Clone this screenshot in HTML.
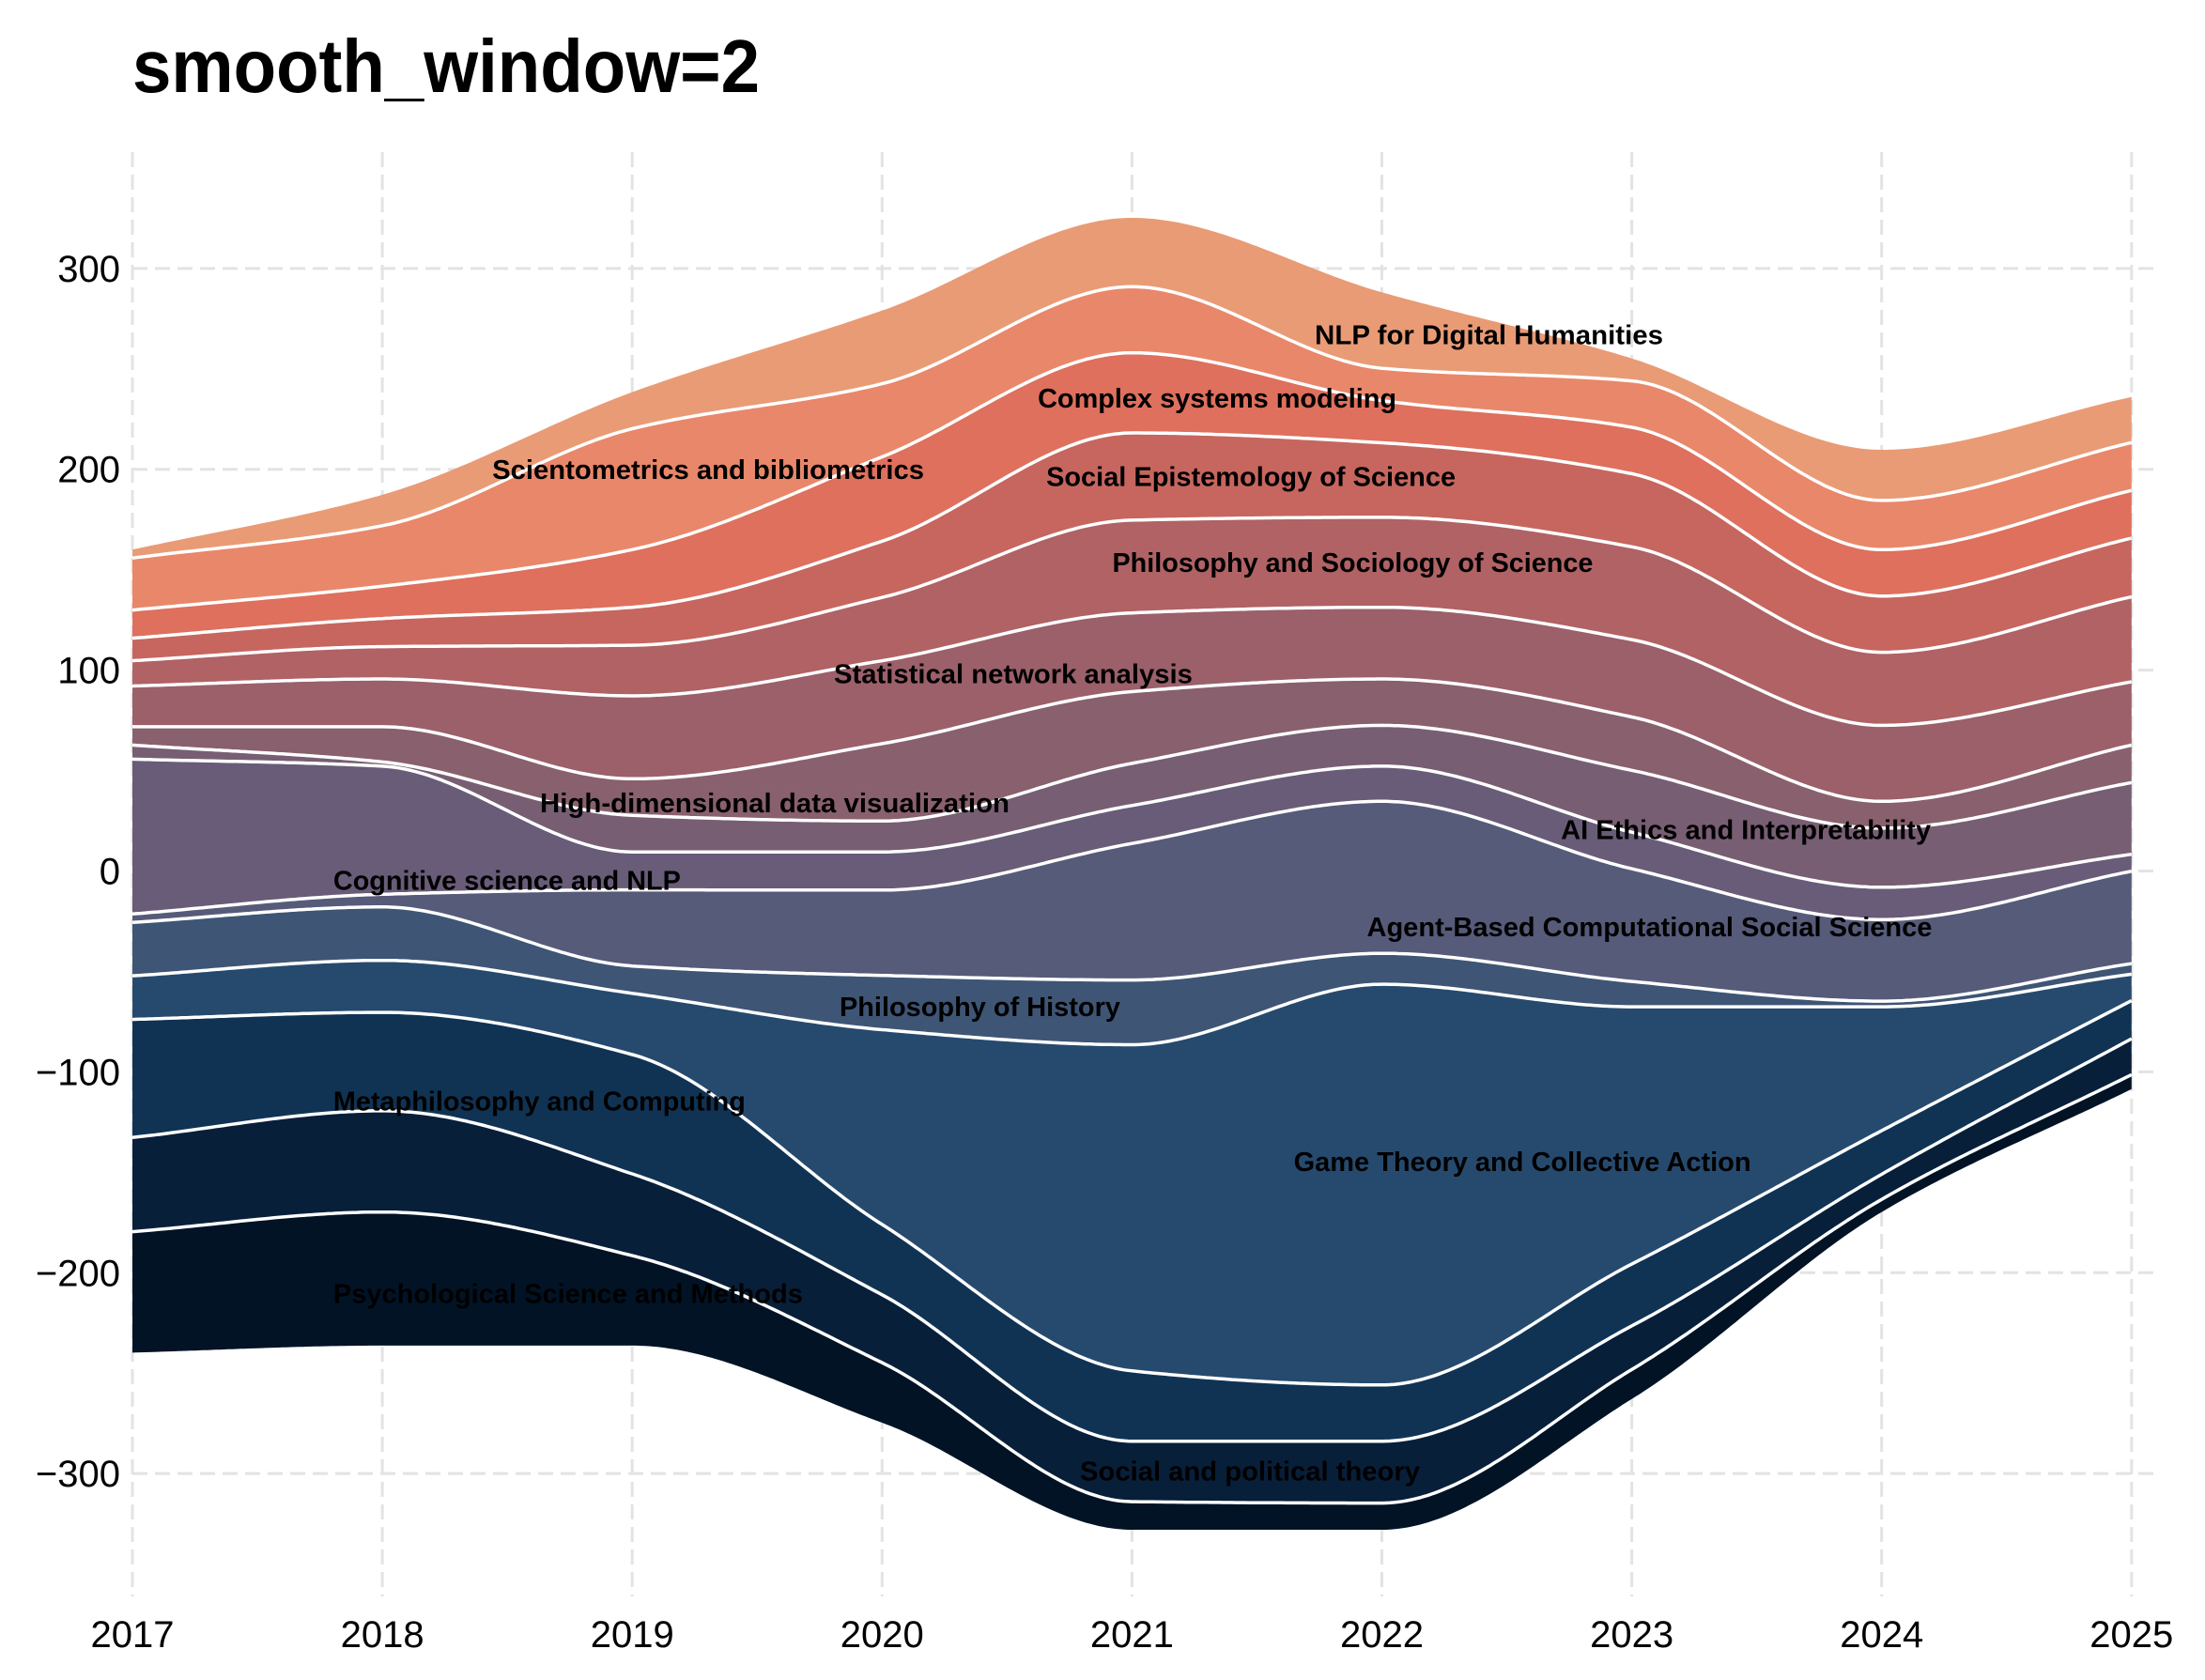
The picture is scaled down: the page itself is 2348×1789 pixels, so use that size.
<!DOCTYPE html>
<html><head><meta charset="utf-8"><style>
html,body{margin:0;padding:0;background:#fff;}
svg{display:block;font-family:"Liberation Sans Narrow","Liberation Sans",sans-serif;}
</style></head><body>
<svg id="chart" width="2348" height="1789" viewBox="0 0 2348 1789">
<text x="141" y="98" font-size="80" font-weight="bold" textLength="668" lengthAdjust="spacingAndGlyphs">smooth_window=2</text>
<g id="grid"></g>
<g id="layers"></g>
<g id="lines"></g>
<g id="labels"></g>
<g id="ticks"></g>
</svg>
<script>
const years = [2017,2018,2019,2020,2021,2022,2023,2024,2025];
const yTicks = [300,200,100,0,-100,-200,-300];
const baseline = [-239.8,-236.3,-236.3,-274.7,-328.0,-328.0,-262.9,-169.8,-108.6];
const psychological = [60.2,66.5,44.8,29.9,14.0,13.3,14.7,6.3,7.2];
const socialPolitical = [46.9,50.4,40.7,33.8,30.1,30.8,21.7,12.5,17.9];
const metaphilosophy = [58.8,49.0,59.4,35.0,35.0,28.0,30.8,21.7,19.0];
const gameTheory = [21.7,25.9,30.5,97.0,162.4,199.5,128.1,61.7,13.1];
const philHistory = [26.6,26.6,13.6,27.0,32.2,15.4,12.6,2.8,5.3];
const agentBased = [4.2,6.3,37.9,42.5,68.0,75.7,56.1,40.6,46.0];
const cognitive = [77.1,63.8,18.9,19.0,18.9,17.5,18.2,16.1,8.4];
const aiEthics = [7.0,2.1,18.2,15.4,21.0,20.3,30.8,29.4,35.7];
const highDim = [9.1,17.5,18.2,38.5,35.7,23.1,26.6,13.4,18.7];
const statNetwork = [20.3,23.8,41.3,41.3,39.2,35.7,38.5,37.8,31.5];
const philSociology = [12.6,16.1,25.2,31.5,46.2,44.8,46.2,36.4,42.3];
const socialEpist = [11.2,14.0,18.9,28.0,43.4,37.1,36.4,28.0,29.2];
const complexSystems = [14.0,16.1,28.7,42.0,39.9,21.0,23.1,23.1,23.8];
const scientometrics = [25.9,30.1,60.2,36.4,32.9,16.1,23.1,24.5,23.8];
const nlpHumanities = [4.2,15.4,18.2,36.4,34.3,37.8,11.2,25.2,22.7];

const series = [psychological,socialPolitical,metaphilosophy,gameTheory,philHistory,agentBased,cognitive,aiEthics,highDim,statNetwork,philSociology,socialEpist,complexSystems,scientometrics,nlpHumanities];
const layerNames = ['psychological-science','social-political-theory','metaphilosophy','game-theory','philosophy-of-history','agent-based','cognitive-science','ai-ethics','high-dimensional','statistical-network','philosophy-sociology','social-epistemology','complex-systems','scientometrics','nlp-digital-humanities'];
const colors = ['#021326','#081f3a','#103354','#264a6e','#3e5575','#575b7a','#685c78','#775e73','#89606d','#9b606a','#b06265','#c6665f','#de705d','#e9876a','#e99b75'];

const NS='http://www.w3.org/2000/svg';
function xS(yr){return 141+(yr-2017)*266.1;}
function yS(v){return 927.5-v*2.1388;}
function mk(tag,attrs,parent){const e=document.createElementNS(NS,tag);for(const k in attrs)e.setAttribute(k,attrs[k]);parent.appendChild(e);return e;}

function pchip(xs,ys){
  const n=xs.length,h=[],d=[],m=new Array(n);
  for(let i=0;i<n-1;i++){h.push(xs[i+1]-xs[i]);d.push((ys[i+1]-ys[i])/h[i]);}
  m[0]=d[0];m[n-1]=d[n-2];
  for(let i=1;i<n-1;i++){
    if(d[i-1]*d[i]<=0)m[i]=0;else{const w1=2*h[i]+h[i-1],w2=h[i]+2*h[i-1];m[i]=(w1+w2)/(w1/d[i-1]+w2/d[i]);}
  }
  const pts=[];
  for(let i=0;i<n-1;i++){
    const N=60;
    for(let k=0;k<(i===n-2?N+1:N);k++){
      const t=k/N,hh=h[i];
      const h00=2*t*t*t-3*t*t+1,h10=t*t*t-2*t*t+t,h01=-2*t*t*t+3*t*t,h11=t*t*t-t*t;
      pts.push([xs[i]+t*hh, h00*ys[i]+h10*hh*m[i]+h01*ys[i+1]+h11*hh*m[i+1]]);
    }
  }
  return pts;
}

const grid=document.getElementById('grid');
yTicks.forEach(t=>{
  const l=mk('line',{x1:141,x2:2300,y1:yS(t),y2:yS(t),stroke:'#e3e3e3','stroke-width':3,'stroke-dasharray':'16,8'},grid);
  
  
});
years.forEach(y=>{
  const l=mk('line',{x1:xS(y),x2:xS(y),y1:162,y2:1700,stroke:'#e3e3e3','stroke-width':3,'stroke-dasharray':'16,8'},grid);
  
  
});

const bounds=[baseline.slice()];
series.forEach(s=>{const prev=bounds[bounds.length-1];bounds.push(prev.map((v,i)=>v+s[i]));});
const xsPix=years.map(xS);
const curves=bounds.map(b=>pchip(xsPix,b.map(yS)));
const layersG=document.getElementById('layers');
for(let i=0;i<series.length;i++){
  const lo=curves[i],hi=curves[i+1];
  let d='M'+hi.map(p=>p[0].toFixed(1)+','+p[1].toFixed(1)).join('L');
  d+='L'+lo.slice().reverse().map(p=>p[0].toFixed(1)+','+p[1].toFixed(1)).join('L')+'Z';
  const p=mk('path',{d:d,fill:colors[i]},layersG);
  
  
}
const linesG=document.getElementById('lines');
for(let i=1;i<curves.length-1;i++){
  const d='M'+curves[i].map(p=>p[0].toFixed(1)+','+p[1].toFixed(1)).join('L');
  const p=mk('path',{d:d,fill:'none',stroke:'#fff','stroke-width':3.5},linesG);
  
  
}

const ticksG=document.getElementById('ticks');
yTicks.forEach(t=>{
  const tx=mk('text',{x:128,y:yS(t)+14,'font-size':40,'text-anchor':'end',fill:'#000'},ticksG);
  tx.textContent=(t<0?'\u2212'+Math.abs(t):String(t));
  
  
});
years.forEach(y=>{
  const tx=mk('text',{x:xS(y),y:1754,'font-size':40,'text-anchor':'middle',fill:'#000'},ticksG);
  tx.textContent=String(y);
  
  
});

const labelText=['NLP for Digital Humanities','Complex systems modeling','Scientometrics and bibliometrics','Social Epistemology of Science','Philosophy and Sociology of Science','Statistical network analysis','High-dimensional data visualization','AI Ethics and Interpretability','Cognitive science and NLP','Agent-Based Computational Social Science','Philosophy of History','Metaphilosophy and Computing','Game Theory and Collective Action','Psychological Science and Methods','Social and political theory'];
const labelBox=[[935,1183,238],[738,993,283],[350,657,334],[744,1035,339],[791,1133,400],[593,848,479],[384,718,571],[1110,1373,590],[237,484,626],[972,1374,659],[597,797,716],[237,530,783],[920,1245,826],[237,571,920],[768,1010,1046]];
const labelsG=document.getElementById('labels');
labelText.forEach((t,i)=>{
  const b=labelBox[i],s=1.4974;
  const tx=mk('text',{x:b[0]*s,y:b[2]*s+10,'font-size':29,'font-weight':'bold',fill:'#000',textLength:((b[1]-b[0])*s).toFixed(0),lengthAdjust:'spacingAndGlyphs'},labelsG);
  tx.textContent=t;
  
  
});
</script>
</body></html>
